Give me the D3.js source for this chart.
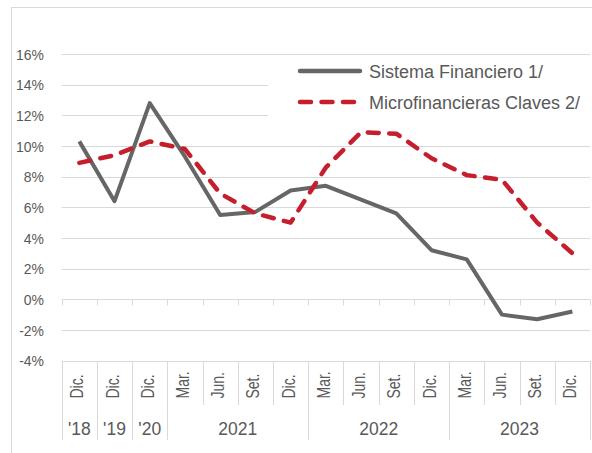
<!DOCTYPE html>
<html>
<head>
<meta charset="utf-8">
<script src="https://cdn.jsdelivr.net/npm/d3@7"></script>
<style>
  body { margin: 0; background: #fff; }
  text { font-family: "Liberation Sans", Arial, sans-serif; fill: #595959; }
</style>
</head>
<body>
<div id="chart"></div>
<script>
// categories (first level) and year groups (second level)
let months = ["Dic.", "Dic.", "Dic.", "Mar.", "Jun.", "Set.", "Dic.", "Mar.", "Jun.", "Set.", "Dic.", "Mar.", "Jun.", "Set.", "Dic."];
let groupLabels = ["'18", "'19", "'20", "2021", "2022", "2023"];
let groupSizes = [1, 1, 1, 4, 4, 4];

// series values (%)
let sistema = [10.3, 6.4, 12.8, 9.3, 5.5, 5.7, 7.1, 7.4, 6.5, 5.6, 3.2, 2.6, -1.0, -1.3, -0.8];
let micro = [8.9, 9.4, 10.3, 9.8, 6.9, 5.6, 5.0, 8.6, 10.9, 10.8, 9.2, 8.1, 7.8, 5.0, 3.0];

let yTicks = [-4, -2, 0, 2, 4, 6, 8, 10, 12, 14, 16];
let seriesNames = ["Sistema Financiero 1/", "Microfinancieras Claves 2/"];

let svgWidth = 592;
let svgHeight = 453;
let gridColor = "#d9d9d9";
let grayColor = "#666666";
let redColor = "#c51f2e";

let svg = d3.select("#chart")
    .append("svg")
    .attr("width", svgWidth)
    .attr("height", svgHeight);

// chart frame
svg.append("rect")
    .attr("x", 11.5)
    .attr("y", 7.5)
    .attr("width", 600)
    .attr("height", 460)
    .attr("fill", "none")
    .attr("stroke", gridColor);

let x = d3.scaleBand()
    .domain(d3.range(months.length))
    .range([61.7, 590]);

let y = d3.scaleLinear()
    .domain([-4, 16])
    .range([360.6, 54]);

let cx = i => x(i) + x.bandwidth() / 2;

// gridlines
svg.append("g")
    .selectAll("line")
    .data(yTicks)
    .enter()
    .append("line")
    .attr("x1", x.range()[0])
    .attr("x2", x.range()[1])
    .attr("y1", d => Math.round(y(d)) + 0.5)
    .attr("y2", d => Math.round(y(d)) + 0.5)
    .attr("stroke", gridColor)
    .attr("stroke-width", 1);

// y labels
svg.append("g")
    .selectAll("text")
    .data(yTicks)
    .enter()
    .append("text")
    .attr("text-anchor", "end")
    .attr("transform", d => `translate(44, ${y(d) + 5.6}) scale(0.9, 1)`)
    .attr("font-size", 15.5)
    .text(d => d + "%");

// tick marks on the 0% line
let boundaries = d3.range(months.length + 1).map(i => i < months.length ? x(i) : x.range()[1]);
svg.append("g")
    .selectAll("line")
    .data(boundaries)
    .enter()
    .append("line")
    .attr("x1", d => Math.round(d) + 0.5)
    .attr("x2", d => Math.round(d) + 0.5)
    .attr("y1", y(0))
    .attr("y2", y(0) + 6)
    .attr("stroke", gridColor);

// multi-level category axis at the bottom
let axisTop = Math.round(y(-4));
svg.append("g")
    .selectAll("line")
    .data(boundaries)
    .enter()
    .append("line")
    .attr("x1", d => Math.round(d) + 0.5)
    .attr("x2", d => Math.round(d) + 0.5)
    .attr("y1", axisTop)
    .attr("y2", 405)
    .attr("stroke", gridColor);

svg.append("g")
    .selectAll("text")
    .data(months)
    .enter()
    .append("text")
    .attr("transform", (d, i) => `translate(${cx(i) + 4}, 398.5) rotate(-90) scale(0.8, 1)`)
    .attr("font-size", 17.5)
    .text(d => d);

let groupStarts = groupSizes.map((n, i) => d3.sum(groupSizes.slice(0, i)));
let groupEdges = groupStarts.map(s => x(s)).concat([x.range()[1]]);

svg.append("g")
    .selectAll("line")
    .data(groupEdges)
    .enter()
    .append("line")
    .attr("x1", d => Math.round(d) + 0.5)
    .attr("x2", d => Math.round(d) + 0.5)
    .attr("y1", 405)
    .attr("y2", 440)
    .attr("stroke", gridColor);

svg.append("g")
    .selectAll("text")
    .data(groupLabels)
    .enter()
    .append("text")
    .attr("text-anchor", "middle")
    .attr("x", (d, i) => (x(groupStarts[i]) + x(groupStarts[i] + groupSizes[i] - 1) + x.bandwidth()) / 2)
    .attr("y", 435)
    .attr("font-size", 17.5)
    .text(d => d);

// legend background covers gridlines
svg.append("rect")
    .attr("x", 268)
    .attr("y", 57)
    .attr("width", 322)
    .attr("height", 66)
    .attr("fill", "#fff");

// lines
let line = d3.line()
    .x((d, i) => cx(i))
    .y(d => y(d));

svg.append("path")
    .datum(sistema)
    .attr("d", line)
    .attr("fill", "none")
    .attr("stroke", grayColor)
    .attr("stroke-width", 4)
    .attr("stroke-linejoin", "round");

svg.append("path")
    .datum(micro)
    .attr("d", line)
    .attr("fill", "none")
    .attr("stroke", redColor)
    .attr("stroke-width", 4.5)
    .attr("stroke-dasharray", "11,10.5")
    .attr("stroke-linecap", "round")
    .attr("stroke-linejoin", "round");

// legend
let legend = svg.append("g");
let legendY = [71, 102];
let legendStyles = [
    { color: grayColor, dash: null, cap: "round", w: 4.5 },
    { color: redColor, dash: "11,10.5", cap: "round", w: 4.5 }
];

seriesNames.forEach(function (name, i) {
    legend.append("line")
        .attr("x1", 300)
        .attr("x2", 360)
        .attr("y1", legendY[i])
        .attr("y2", legendY[i])
        .attr("stroke", legendStyles[i].color)
        .attr("stroke-width", legendStyles[i].w)
        .attr("stroke-linecap", legendStyles[i].cap)
        .attr("stroke-dasharray", legendStyles[i].dash);

    legend.append("text")
        .attr("x", 369)
        .attr("y", legendY[i] + 6.5)
        .attr("font-size", 18)
        .text(name);
});
</script>
</body>
</html>
